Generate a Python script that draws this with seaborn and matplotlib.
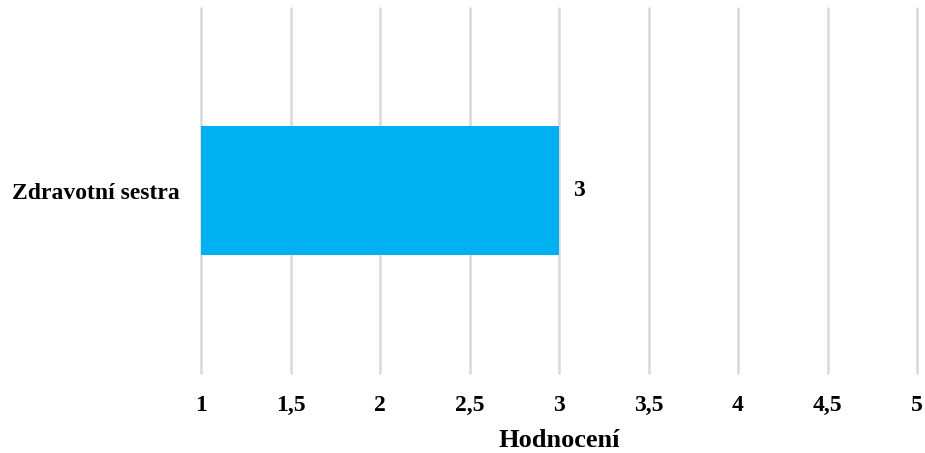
import matplotlib
matplotlib.use("Agg")
import matplotlib.pyplot as plt
import seaborn as sns
import pandas as pd

categories = ["Zdravotní sestra"]
values = [3]
x_ticks = [1, 1.5, 2, 2.5, 3, 3.5, 4, 4.5, 5]
x_tick_labels = ["1", "1,5", "2", "2,5", "3", "3,5", "4", "4,5", "5"]
x_label = "Hodnocení"

sns.set_theme(style="white")
plt.rcParams["font.family"] = ["Liberation Serif", "DejaVu Serif"]
plt.rcParams["font.weight"] = "bold"

df = pd.DataFrame({"kategorie": categories, "hodnota": values})

fig = plt.figure(figsize=(9.25, 4.53), dpi=100)
ax = fig.add_axes([0.2173, 0.1766, 0.7741, 0.8057])

base = x_ticks[0]
sns.barplot(data=df, x="hodnota", y="kategorie", orient="h", color="#00B0F0",
            saturation=1, width=0.356, linewidth=0, ax=ax)
# bars start at the axis minimum rather than at zero
for patch, v in zip(ax.patches, values):
    patch.set_x(base)
    patch.set_width(v - base)
    ax.text(v + 0.08, patch.get_y() + patch.get_height() / 2, str(v),
            ha="left", va="center", fontsize=17, fontweight="bold", color="black")

ax.set_xlim(x_ticks[0], x_ticks[-1])
ax.set_ylim(0.5, -0.5)
ax.set_xticks(x_ticks)
ax.set_xticklabels(x_tick_labels, fontsize=17, fontweight="bold", color="black")
ax.tick_params(axis="x", length=0, pad=15.5)
ax.tick_params(axis="y", length=0, pad=15)
for lab in ax.get_yticklabels():
    lab.set_fontsize(17)
    lab.set_fontweight("bold")
    lab.set_color("black")
ax.set_ylabel("")
ax.set_xlabel(x_label, fontsize=19, fontweight="bold", color="black", labelpad=10)
ax.grid(axis="x", color="#d9d9d9", linewidth=1.8)
for gl in ax.get_xgridlines():
    gl.set_clip_on(False)
ax.set_axisbelow(True)
for s in ax.spines.values():
    s.set_visible(False)

fig.savefig("out.png", dpi=100)
